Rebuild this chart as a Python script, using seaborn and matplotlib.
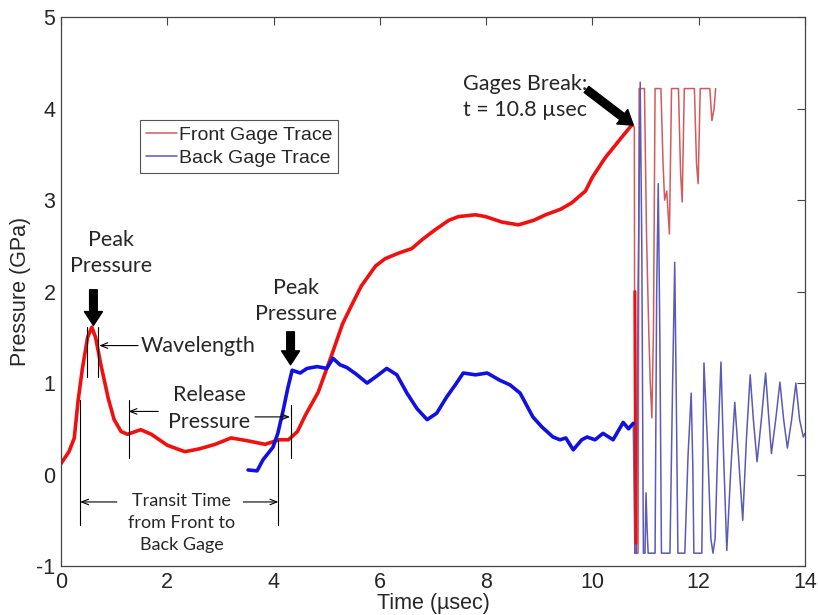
import pandas as pd
import matplotlib.pyplot as plt
import seaborn as sns
from matplotlib.lines import Line2D

sns.set_style("white")
plt.rcParams['font.family'] = ['Liberation Sans', 'DejaVu Sans']
plt.rcParams['xtick.direction'] = 'in'
plt.rcParams['ytick.direction'] = 'in'
plt.rcParams['axes.unicode_minus'] = False

# front gage, clean part of the trace (usec, GPa)
front_t = [0.0, 0.15, 0.25, 0.32, 0.4, 0.5, 0.58, 0.65, 0.75, 0.89, 1.0, 1.13, 1.25, 1.5, 1.7,
           2.0, 2.33, 2.6, 2.9, 3.2, 3.5, 3.84, 4.1, 4.28, 4.45, 4.6, 4.84, 5.09, 5.3, 5.46,
           5.65, 5.92, 6.1, 6.35, 6.6, 6.8, 7.05, 7.3, 7.48, 7.8, 7.99, 8.3, 8.61, 8.9, 9.12,
           9.4, 9.61, 9.87, 10.0, 10.18, 10.25, 10.5, 10.74]
front_p = [0.12, 0.25, 0.4, 0.8, 1.15, 1.5, 1.61, 1.5, 1.2, 0.83, 0.6, 0.47, 0.44, 0.49, 0.44,
           0.32, 0.25, 0.28, 0.33, 0.40, 0.37, 0.33, 0.38, 0.38, 0.47, 0.65, 0.9, 1.3, 1.65, 1.84,
           2.06, 2.28, 2.36, 2.42, 2.47, 2.57, 2.68, 2.78, 2.82, 2.84, 2.82, 2.76, 2.73, 2.78, 2.84,
           2.90, 2.97, 3.1, 3.25, 3.41, 3.47, 3.65, 3.82]

# front gage drop at break
drop_t = [10.80, 10.81, 10.82]
drop_p = [2.0, 0.5, -0.75]

# front gage after break
front_brk_t = [10.74, 10.79, 10.80, 10.86, 10.88, 10.98, 11.02, 11.06, 11.09, 11.12, 11.15, 11.18,
               11.29, 11.33, 11.36, 11.40, 11.45, 11.49, 11.62, 11.66, 11.69, 11.73, 11.92, 11.96,
               11.99, 12.03, 12.21, 12.25, 12.29, 12.32]
front_brk_p = [3.82, 3.8, -0.86, -0.86, 4.22, 4.22, 2.6, 1.6, 1.0, 0.62, 1.6, 4.22,
               4.22, 3.4, 3.0, 3.1, 2.63, 4.22, 4.22, 3.3, 2.98, 4.22, 4.22, 3.4,
               3.18, 4.22, 4.22, 3.87, 4.0, 4.22]

# back gage, clean part
back_t = [3.52, 3.69, 3.80, 3.99, 4.08, 4.18, 4.27, 4.35, 4.5, 4.63, 4.82, 5.0, 5.12, 5.25, 5.38,
          5.55, 5.76, 5.95, 6.13, 6.32, 6.51, 6.70, 6.89, 7.07, 7.26, 7.42, 7.57, 7.8, 8.02, 8.26,
          8.45, 8.64, 8.88, 9.05, 9.26, 9.39, 9.5, 9.64, 9.8, 9.9, 10.05, 10.2, 10.39, 10.58,
          10.68, 10.77]
back_p = [0.05, 0.04, 0.16, 0.30, 0.45, 0.70, 0.95, 1.14, 1.11, 1.16, 1.18, 1.16, 1.27, 1.2, 1.17,
          1.1, 1.0, 1.08, 1.16, 1.09, 0.89, 0.72, 0.60, 0.67, 0.85, 0.98, 1.11, 1.09, 1.11, 1.03,
          0.98, 0.89, 0.63, 0.52, 0.41, 0.38, 0.40, 0.27, 0.38, 0.41, 0.38, 0.45, 0.38, 0.57,
          0.5, 0.56]

# back gage after break
back_brk_t = [10.77, 10.80, 10.83, 10.86, 10.90, 10.93, 10.96, 10.99, 11.01, 11.03, 11.05, 11.18,
              11.21, 11.24, 11.27, 11.30, 11.46, 11.51, 11.55, 11.58, 11.61, 11.74, 11.80, 11.86,
              11.89, 11.91, 12.06, 12.10, 12.17, 12.23, 12.27, 12.31, 12.36, 12.42, 12.47, 12.53,
              12.60, 12.68, 12.75, 12.83, 12.90, 12.97, 13.03, 13.10, 13.18, 13.26, 13.31, 13.37,
              13.45, 13.53, 13.60, 13.67, 13.75, 13.83, 13.90, 13.97, 14.0]
back_brk_p = [0.56, -0.86, -0.86, 2.0, 4.29, 2.5, -0.86, -0.86, -0.2, -0.6, -0.86, -0.86,
              2.0, 3.18, 1.5, -0.86, -0.86, 1.0, 2.32, 0.8, -0.86, -0.86, 0.2, 0.89,
              0.1, -0.86, -0.86, 1.22, 0.3, -0.7, -0.86, -0.7, 0.3, 1.23, 0.2, -0.83,
              0.0, 0.79, 0.2, -0.5, 0.4, 1.09, 0.6, 0.14, 0.6, 1.11, 0.7, 0.23,
              0.6, 1.01, 0.6, 0.29, 0.6, 1.0, 0.6, 0.41, 0.45]

RED, BLUE = '#f01010', '#1010e0'
RED_THIN, BLUE_THIN = '#d45a5a', '#5a5ab8'

fig, ax = plt.subplots(figsize=(8.18, 6.15), dpi=100)
fig.subplots_adjust(left=0.0746, right=0.984, top=0.972, bottom=0.0797)

line_kw = dict(estimator=None, sort=False, ax=ax, legend=False)
sns.lineplot(x=front_brk_t, y=front_brk_p, color=RED_THIN, lw=1.1, **line_kw)
sns.lineplot(x=back_brk_t, y=back_brk_p, color=BLUE_THIN, lw=1.1, **line_kw)
sns.lineplot(x=drop_t, y=drop_p, color=RED, lw=2.2, **line_kw)
sns.lineplot(x=front_t, y=front_p, color=RED, lw=2.6, **line_kw)
sns.lineplot(x=back_t, y=back_p, color=BLUE, lw=2.6, **line_kw)

ax.set_xlim(0, 14)
ax.set_ylim(-1, 5)
ax.set_xticks(range(0, 15, 2))
ax.set_yticks(range(-1, 6))
ax.tick_params(top=True, right=True, length=6, width=0.8, color='#444', labelsize=15.5, pad=4)
for s in ax.spines.values():
    s.set_color('#444')
    s.set_linewidth(0.9)
ax.set_xlabel('Time (µsec)', fontsize=15.5, labelpad=0)
ax.set_ylabel('Pressure (GPa)', fontsize=15.5)
ax.yaxis.set_label_coords(-0.04, 0.5)

# legend
handles = [Line2D([0], [0], color=RED_THIN, lw=1.1, label='Front Gage Trace'),
           Line2D([0], [0], color=BLUE_THIN, lw=1.1, label='Back Gage Trace')]
leg = ax.legend(handles=handles, loc='upper left', bbox_to_anchor=(0.106, 0.812), borderaxespad=0,
                fontsize=14, fancybox=False, framealpha=1, edgecolor='#555', handlelength=1.6,
                handletextpad=0.1, labelspacing=0.3, borderpad=0.3)
leg.get_frame().set_linewidth(0.8)

# annotations
ann_font = ['Lato', 'DejaVu Sans']
big = dict(facecolor='black', edgecolor='black', width=5.5, headwidth=13, headlength=10, shrink=0)
thin = dict(arrowstyle='->,head_length=0.5,head_width=0.2', color='black', lw=0.8, shrinkA=0, shrinkB=0)

ax.text(0.94, 2.42, 'Peak\nPressure', ha='center', va='center', fontsize=15.5, family=ann_font, linespacing=1.4)
ax.annotate('', xy=(0.61, 1.63), xytext=(0.61, 2.02), arrowprops=big)
ax.plot([0.48, 0.48], [1.07, 1.61], color='black', lw=0.8)
ax.plot([0.70, 0.70], [1.07, 1.61], color='black', lw=0.8)
ax.annotate('', xy=(0.72, 1.41), xytext=(1.45, 1.41), arrowprops=thin)
ax.text(1.49, 1.41, 'Wavelength', ha='left', va='center', fontsize=15.5, family=ann_font)

ax.text(4.43, 1.90, 'Peak\nPressure', ha='center', va='center', fontsize=15.5, family=ann_font, linespacing=1.4)
ax.annotate('', xy=(4.32, 1.20), xytext=(4.32, 1.56), arrowprops=big)

ax.text(2.79, 0.72, 'Release\nPressure', ha='center', va='center', fontsize=15.5, family=ann_font, linespacing=1.4)
ax.plot([1.27, 1.27], [0.18, 0.81], color='black', lw=0.8)
ax.plot([4.32, 4.32], [0.18, 0.76], color='black', lw=0.8)
ax.annotate('', xy=(1.27, 0.69), xytext=(1.83, 0.69), arrowprops=thin)
ax.annotate('', xy=(4.31, 0.63), xytext=(3.65, 0.63), arrowprops=thin)

ax.text(2.27, -0.53, 'Transit Time\nfrom Front to\nBack Gage', ha='center', va='center', fontsize=13,
        family=ann_font, linespacing=1.45)
ax.plot([0.36, 0.36], [-0.55, 0.81], color='black', lw=0.8)
ax.plot([4.09, 4.09], [-0.55, 0.38], color='black', lw=0.8)
ax.annotate('', xy=(0.36, -0.30), xytext=(1.05, -0.30), arrowprops=thin)
ax.annotate('', xy=(4.09, -0.30), xytext=(3.43, -0.30), arrowprops=thin)

ax.text(8.74, 4.13, 'Gages Break:\nt = 10.8 µsec', ha='center', va='center', fontsize=15.5,
        family=ann_font, linespacing=1.4)
ax.annotate('', xy=(10.77, 3.82), xytext=(9.89, 4.21), arrowprops=big)

plt.savefig('out.png', dpi=100)
